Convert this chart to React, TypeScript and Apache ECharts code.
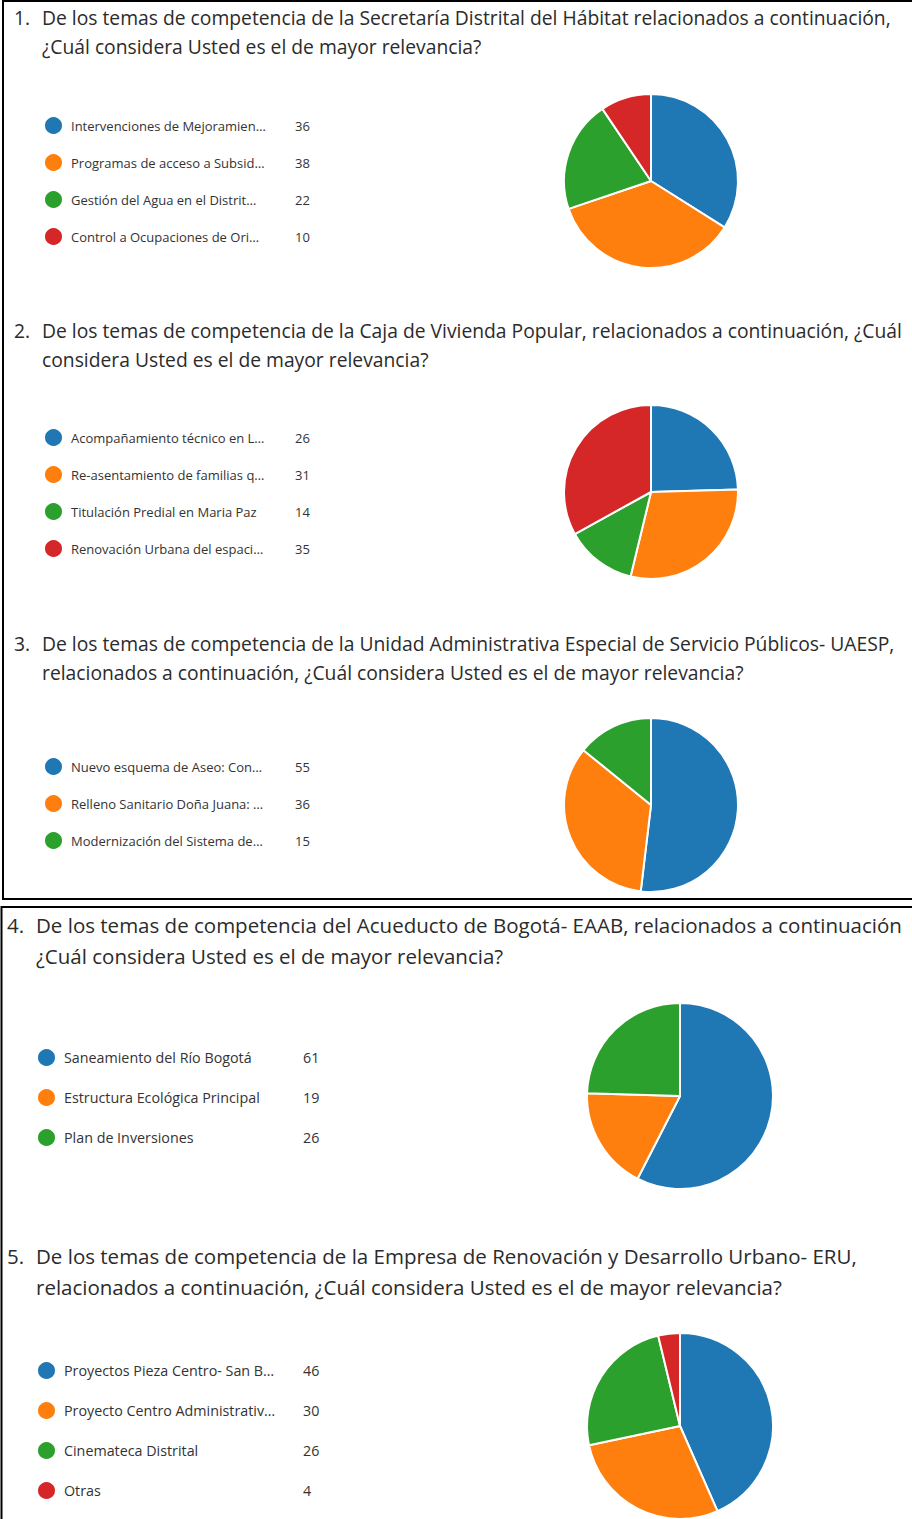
import React, { useEffect, useRef } from "react";
import * as echarts from "echarts";

const COLORS = ["#1f77b4", "#ff7f0e", "#2ca02c", "#d62728"];

const questionNumbers = ["1.", "2.", "3.", "4.", "5."];
const questionTexts = [
  "De los temas de competencia de la Secretaría Distrital del Hábitat relacionados a continuación,\n¿Cuál considera Usted es el de mayor relevancia?",
  "De los temas de competencia de la Caja de Vivienda Popular, relacionados a continuación, ¿Cuál\nconsidera Usted es el de mayor relevancia?",
  "De los temas de competencia de la Unidad Administrativa Especial de Servicio Públicos- UAESP,\nrelacionados a continuación, ¿Cuál considera Usted es el de mayor relevancia?",
  "De los temas de competencia del Acueducto de Bogotá- EAAB, relacionados a continuación\n¿Cuál considera Usted es el de mayor relevancia?",
  "De los temas de competencia de la Empresa de Renovación y Desarrollo Urbano- ERU,\nrelacionados a continuación, ¿Cuál considera Usted es el de mayor relevancia?",
];

const q1Names = [
  "Intervenciones de Mejoramien…",
  "Programas de acceso a Subsid…",
  "Gestión del Agua en el Distrit…",
  "Control a Ocupaciones de Ori…",
];
const q1Values = [36, 38, 22, 10];

const q2Names = [
  "Acompañamiento técnico en L…",
  "Re-asentamiento de familias q…",
  "Titulación Predial en Maria Paz",
  "Renovación Urbana del espaci…",
];
const q2Values = [26, 31, 14, 35];

const q3Names = [
  "Nuevo esquema de Aseo: Con…",
  "Relleno Sanitario Doña Juana: …",
  "Modernización del Sistema de…",
];
const q3Values = [55, 36, 15];

const q4Names = [
  "Saneamiento del Río Bogotá",
  "Estructura Ecológica Principal",
  "Plan de Inversiones",
];
const q4Values = [61, 19, 26];

const q5Names = [
  "Proyectos Pieza Centro- San B…",
  "Proyecto Centro Administrativ…",
  "Cinemateca Distrital",
  "Otras",
];
const q5Values = [46, 30, 26, 4];

const allNames = [q1Names, q2Names, q3Names, q4Names, q5Names];
const allValues = [q1Values, q2Values, q3Values, q4Values, q5Values];

// layout (positions/sizes only)
const layout = [
  { titleTop: 3, numLeft: 14, textLeft: 42, fontSize: 19.3, lineHeight: 29, legLeft: 43, legTop: 115, gap: 16, nameW: 224, legFont: 13, pie: [651, 181], r: 87 },
  { titleTop: 316, numLeft: 14, textLeft: 42, fontSize: 19.3, lineHeight: 29, legLeft: 43, legTop: 427, gap: 16, nameW: 224, legFont: 13, pie: [651, 492], r: 87 },
  { titleTop: 629, numLeft: 14, textLeft: 42, fontSize: 19.3, lineHeight: 29, legLeft: 43, legTop: 756, gap: 16, nameW: 224, legFont: 13, pie: [651, 805], r: 87 },
  { titleTop: 909, numLeft: 7, textLeft: 36, fontSize: 20.5, lineHeight: 31, legLeft: 36, legTop: 1047, gap: 19, nameW: 239, legFont: 14.3, pie: [680, 1096], r: 93 },
  { titleTop: 1240, numLeft: 7, textLeft: 36, fontSize: 20.5, lineHeight: 31, legLeft: 36, legTop: 1360, gap: 19, nameW: 239, legFont: 14.3, pie: [680, 1426], r: 93 },
];

const FONT = "'Open Sans', 'Noto Sans', sans-serif";

export default function App() {
  const ref = useRef<HTMLDivElement>(null);
  useEffect(() => {
    if (!ref.current) return;
    const chart = echarts.init(ref.current, undefined, { renderer: "svg" });

    const valueMap: Record<string, number> = {};
    allNames.forEach((names, i) => names.forEach((n, j) => (valueMap[n] = allValues[i][j])));

    const titles: any[] = [];
    const legends: any[] = [];
    const series: any[] = [];

    layout.forEach((L, i) => {
      titles.push({
        text: questionNumbers[i],
        left: L.numLeft,
        top: L.titleTop,
        padding: 0,
        textStyle: { fontFamily: FONT, fontSize: L.fontSize, fontWeight: "normal", color: "#2b2b2b", lineHeight: L.lineHeight },
      });
      titles.push({
        text: questionTexts[i],
        left: L.textLeft,
        top: L.titleTop,
        padding: 0,
        textStyle: { fontFamily: FONT, fontSize: L.fontSize, fontWeight: "normal", color: "#2b2b2b", lineHeight: L.lineHeight },
      });
      legends.push({
        data: allNames[i],
        orient: "vertical",
        left: L.legLeft,
        top: L.legTop,
        padding: 0,
        itemGap: L.gap,
        itemWidth: 19,
        itemHeight: 19,
        icon: "circle",
        selectedMode: false,
        formatter: (name: string) => `{n|${name}}{v|${valueMap[name]}}`,
        textStyle: {
          fontFamily: FONT,
          rich: {
            n: { width: L.nameW, padding: [0, 0, 0, 3], fontSize: L.legFont, color: "#333", fontFamily: FONT, lineHeight: 19 },
            v: { fontSize: L.legFont, color: "#333", fontFamily: FONT, lineHeight: 19 },
          },
        },
      });
      series.push({
        type: "pie",
        center: L.pie,
        radius: L.r,
        startAngle: 90,
        clockwise: true,
        label: { show: false },
        labelLine: { show: false },
        emphasis: { disabled: true },
        itemStyle: { borderColor: "#fff", borderWidth: 2 },
        data: allNames[i].map((n, j) => ({
          name: n,
          value: allValues[i][j],
          itemStyle: { color: COLORS[j] },
        })),
      });
    });

    chart.setOption({
      animation: false,
      backgroundColor: "#fff",
      title: titles,
      legend: legends,
      series,
      graphic: [
        { type: "rect", shape: { x: 3, y: 1, width: 920, height: 898 }, style: { fill: "none", stroke: "#000", lineWidth: 2 }, silent: true },
        { type: "rect", shape: { x: 1.5, y: 907, width: 920, height: 620 }, style: { fill: "none", stroke: "#000", lineWidth: 2 }, silent: true },
      ],
    });
    return () => chart.dispose();
  }, []);
  return <div ref={ref} style={{ position: "absolute", left: 0, top: 0, width: 912, height: 1519 }} />;
}
